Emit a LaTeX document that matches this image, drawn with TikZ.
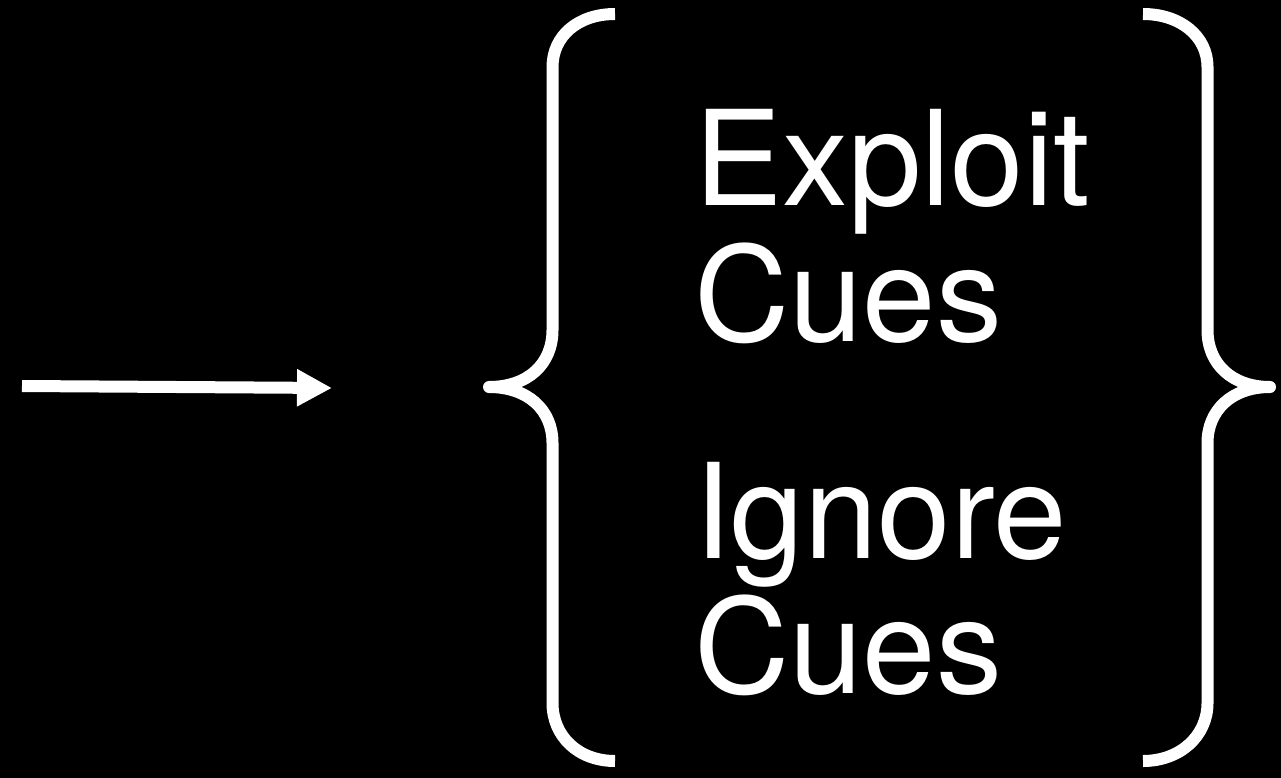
\documentclass[tikz,border=0pt]{standalone}
\usepackage{fontspec}
\setmainfont{TeX Gyre Heros}
\usetikzlibrary{arrows.meta}
\tikzset{
  bracestroke/.style={draw=white, line width=12pt, line join=round, line cap=butt},
  bigtext/.style={text=white, inner sep=0pt, anchor=base west, font=\fontsize{132}{136}\selectfont},
  arrowstroke/.style={draw=white, line width=12pt, -{Triangle[length=35pt,width=35pt]}}
}
\begin{document}
\begin{tikzpicture}[x=1pt,y=-1pt]
  \fill[black] (0,0) rectangle (1281,778);
  \useasboundingbox (0,0) rectangle (1281,778);
  % arrow
  \coordinate (astart) at (22,386);
  \coordinate (aend) at (332,388);
  \draw[arrowstroke] (astart) -- (aend);
  % left brace
  \draw[bracestroke] (615,14) .. controls (578,14) and (552.5,36) .. (552.5,67)
    -- (552.5,330) .. controls (552.5,364) and (528,387) .. (489,387)
    .. controls (528,387) and (552.5,410) .. (552.5,443)
    -- (552.5,703) .. controls (552.5,736) and (578,761) .. (615,761);
  % right brace
  \draw[bracestroke] (1143,14) .. controls (1180,14) and (1207.5,36) .. (1207.5,67)
    -- (1207.5,330) .. controls (1207.5,364) and (1232,387) .. (1270,387)
    .. controls (1232,387) and (1207.5,410) .. (1207.5,443)
    -- (1207.5,703) .. controls (1207.5,736) and (1180,761) .. (1143,761);
  % texts
  \node[bigtext] (e1) at (694,205) {Exploit};
  \node[bigtext] (e2) at (694,341) {Cues};
  \node[bigtext] (i1) at (694,558) {Ignore};
  \node[bigtext] (i2) at (694,693) {Cues};
\end{tikzpicture}
\end{document}
